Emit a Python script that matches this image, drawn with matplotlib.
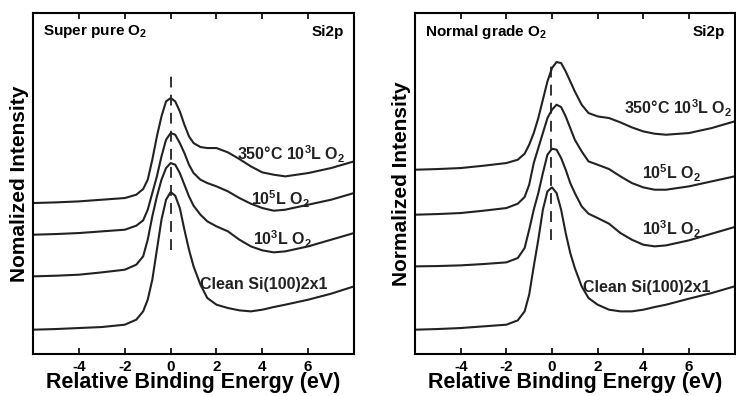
import numpy as np
import matplotlib
matplotlib.use("Agg")
import matplotlib.pyplot as plt

plt.rcParams["font.family"] = ["Liberation Sans", "DejaVu Sans"]
plt.rcParams["font.weight"] = "bold"
plt.rcParams["mathtext.fontset"] = "custom"
plt.rcParams["mathtext.rm"] = "Liberation Sans:bold"
plt.rcParams["mathtext.it"] = "Liberation Sans:bold"
plt.rcParams["mathtext.bf"] = "Liberation Sans:bold"

# relative binding energy (eV), shared by every spectrum
energy = [-6, -5, -4, -3, -2, -1.5, -1.2, -1.0, -0.8, -0.6, -0.4, -0.2, 0, 0.2, 0.4,
          0.6, 0.8, 1.0, 1.3, 1.6, 2.0, 2.5, 3.0, 3.5, 4.0, 4.5, 5.0, 6.0, 7.0, 8.0]

# super pure O2 (left panel), intensities in arbitrary units incl. vertical offset
pure_clean = [7.3, 7.5, 7.8, 8.1, 8.8, 10.3, 12.8, 16.3, 22.3, 31.3, 40.3, 46.3, 48.6, 47.5, 43.8,
              37.3, 31.3, 26.3, 20.8, 16.8, 14.8, 13.8, 13.1, 12.8, 13.3, 14.1, 14.8, 16.3, 18.1, 20.3]
pure_1e3 = [23.3, 23.5, 23.8, 24.5, 25.3, 26.8, 29.3, 34.3, 41.3, 47.3, 52.3, 55.8, 57.3, 56.8, 54.3,
            50.8, 47.3, 44.5, 41.8, 39.8, 38.3, 36.8, 34.3, 32.3, 31.1, 30.5, 30.8, 32.3, 34.3, 36.3]
pure_1e5 = [35.8, 36.0, 36.3, 36.8, 37.3, 38.5, 40.1, 43.3, 48.3, 53.3, 59.3, 64.3, 66.3, 65.8, 63.3,
            60.3, 56.8, 54.3, 52.3, 51.3, 50.3, 48.8, 46.8, 45.1, 43.8, 43.0, 43.3, 44.8, 46.3, 48.3]
pure_350 = [45.3, 45.5, 45.8, 46.3, 46.8, 47.8, 49.5, 52.3, 58.3, 65.3, 71.3, 75.8, 76.8, 75.8, 72.8,
            68.8, 65.3, 63.3, 62.1, 61.8, 61.8, 60.5, 58.5, 56.3, 54.5, 53.8, 53.3, 54.3, 55.8, 57.8]

# normal grade O2 (right panel)
norm_clean = [7.3, 7.5, 7.8, 8.3, 8.8, 10.1, 12.8, 17.8, 26.3, 34.3, 43.3, 48.8, 50.0, 48.3, 43.3,
              36.3, 30.3, 25.8, 20.3, 16.8, 14.8, 13.3, 12.8, 12.8, 13.3, 14.1, 14.8, 16.6, 18.3, 20.3]
norm_1e3 = [26.3, 26.4, 26.6, 27.0, 27.5, 28.8, 31.8, 37.3, 43.3, 48.3, 54.3, 59.8, 61.6, 61.3, 58.8,
            55.3, 51.3, 48.3, 44.3, 42.1, 40.8, 39.1, 36.3, 34.3, 32.8, 32.3, 32.6, 34.1, 36.1, 38.1]
norm_1e5 = [41.8, 42.0, 42.3, 43.0, 43.8, 45.1, 47.1, 50.8, 57.3, 61.8, 66.3, 70.8, 73.3, 74.8, 74.1,
            71.3, 67.8, 64.3, 60.8, 57.8, 56.8, 55.5, 53.3, 51.3, 50.0, 49.3, 49.3, 50.3, 51.8, 53.3]
norm_350 = [55.3, 55.5, 55.8, 56.5, 57.3, 58.3, 60.1, 62.8, 66.3, 70.8, 76.3, 81.8, 85.8, 87.6, 87.3,
            84.8, 81.8, 78.8, 74.8, 72.3, 71.3, 70.8, 69.5, 68.0, 66.8, 66.1, 65.8, 66.3, 67.8, 69.8]

curve_labels = ["Clean Si(100)2x1", "10$^3$L O$_2$", "10$^5$L O$_2$", "350°C 10$^3$L O$_2$"]
xticks = [-4, -2, 0, 2, 4, 6]

# label anchor points (x, y) per panel
pure_label_pos = [(1.3, 20.8), (3.6, 34.3), (3.5, 46.3), (2.9, 59.8)]
norm_label_pos = [(1.35, 20.1), (3.95, 37.3), (3.95, 54.3), (3.15, 73.8)]

fig = plt.figure(figsize=(7.36, 3.96), dpi=100)
ax1 = fig.add_axes([0.045, 0.106, 0.436, 0.861])
ax2 = fig.add_axes([0.564, 0.106, 0.434, 0.861])

panels = [
    (ax1, [pure_clean, pure_1e3, pure_1e5, pure_350], pure_label_pos,
     "Super pure O$_2$", "Nomalized Intensity", 0.0, (31.3, 84.8)),
    (ax2, [norm_clean, norm_1e3, norm_1e5, norm_350], norm_label_pos,
     "Normal grade O$_2$", "Normalized Intensity", -0.05, (34.3, 88.3)),
]

for ax, curves, label_pos, title, ylab, x_dash, y_dash in panels:
    for y, lab, (lx, ly) in zip(curves, curve_labels, label_pos):
        ax.plot(energy, y, color="#222222", lw=1.5)
        ax.text(lx, ly, lab, fontsize=11.5, fontweight="bold", color="#222222",
                ha="left", va="center")
    ax.plot([x_dash, x_dash], y_dash, color="#222222", lw=1.3, ls=(0, (6, 4)))
    ax.text(0.03, 0.945, title, transform=ax.transAxes, fontsize=11,
            fontweight="bold", ha="left", va="center")
    ax.text(0.97, 0.945, "Si2p", transform=ax.transAxes, fontsize=11,
            fontweight="bold", ha="right", va="center")
    ax.set_xlim(-6, 8)
    ax.set_ylim(0, 102.3)
    ax.set_xticks(xticks)
    ax.set_xticklabels([str(t) for t in xticks], fontsize=11, fontweight="bold")
    ax.set_yticks([])
    ax.tick_params(axis="x", direction="in", top=True, length=4, width=1.2, pad=4)
    for s in ax.spines.values():
        s.set_linewidth(1.5)
    ax.set_xlabel("Relative Binding Energy (eV)", fontsize=15.5, fontweight="bold", labelpad=-1)
    ax.set_ylabel(ylab, fontsize=15, fontweight="bold", labelpad=3)

fig.savefig("out.png", dpi=100)
